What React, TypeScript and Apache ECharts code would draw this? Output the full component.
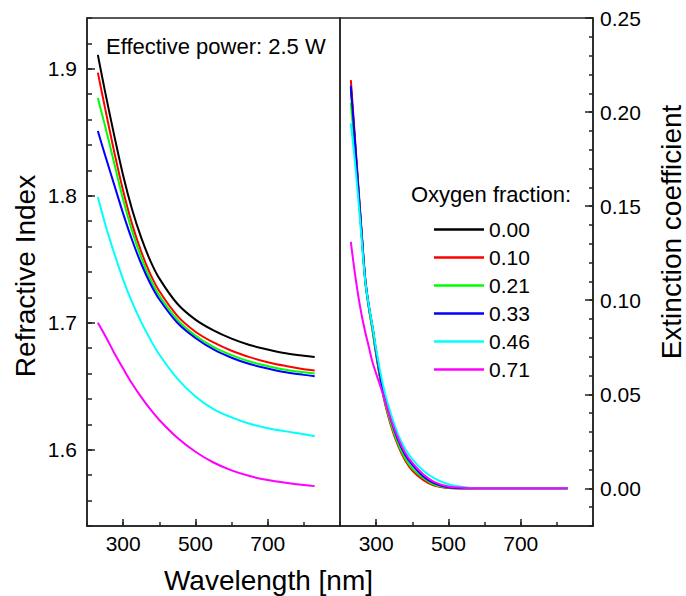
import React, { useEffect, useRef } from "react";
import * as echarts from "echarts";

const FONT = "'Liberation Sans', Arial, sans-serif";

const fractions = ["0.00", "0.10", "0.21", "0.33", "0.46", "0.71"];
const colors = ["#000000", "#ff0000", "#00ff00", "#0000ff", "#00ffff", "#ff00ff"];

// Refractive index panel
const wlN = [230, 250, 275, 300, 325, 350, 375, 400, 450, 500, 550, 600, 650, 700, 750, 800, 830];
const n000 = [1.911, 1.882, 1.848, 1.816, 1.789, 1.767, 1.749, 1.735, 1.715, 1.7025, 1.694, 1.6875, 1.6825, 1.679, 1.676, 1.674, 1.673];
const n010 = [1.897, 1.869, 1.835, 1.804, 1.7775, 1.756, 1.7385, 1.725, 1.7055, 1.693, 1.6845, 1.678, 1.673, 1.669, 1.666, 1.6635, 1.6625];
const n021 = [1.877, 1.855, 1.826, 1.797, 1.772, 1.7515, 1.7345, 1.7215, 1.7025, 1.690, 1.681, 1.6745, 1.6695, 1.666, 1.663, 1.661, 1.660];
const n033 = [1.851, 1.832, 1.809, 1.786, 1.765, 1.7465, 1.731, 1.7185, 1.700, 1.688, 1.679, 1.6725, 1.6675, 1.664, 1.661, 1.659, 1.658];
const n046 = [1.799, 1.778, 1.755, 1.734, 1.716, 1.7005, 1.687, 1.675, 1.656, 1.642, 1.632, 1.6255, 1.6205, 1.617, 1.6145, 1.6123, 1.6106];
const n071 = [1.700, 1.690, 1.6765, 1.664, 1.652, 1.6415, 1.632, 1.6235, 1.6095, 1.5985, 1.590, 1.5838, 1.5793, 1.5762, 1.574, 1.5722, 1.5714];
const nSeries = [n000, n010, n021, n033, n046, n071];

// Extinction coefficient panel
const wlK = [230, 240, 250, 260, 270, 280, 290, 300, 320, 340, 360, 380, 400, 430, 460, 500, 550, 600, 700, 830];
const k000 = [0.213, 0.187, 0.161, 0.135, 0.110, 0.096, 0.085, 0.072, 0.050, 0.035, 0.024, 0.016, 0.010, 0.005, 0.002, 0.0003, 0, 0, 0, 0];
const k010 = [0.217, 0.190, 0.163, 0.136, 0.111, 0.096, 0.084, 0.071, 0.049, 0.034, 0.023, 0.015, 0.0095, 0.0045, 0.0015, 0.0002, 0, 0, 0, 0];
const k021 = [0.205, 0.183, 0.159, 0.134, 0.110, 0.096, 0.084, 0.072, 0.050, 0.035, 0.024, 0.016, 0.0105, 0.0055, 0.002, 0.0004, 0, 0, 0, 0];
const k033 = [0.214, 0.188, 0.161, 0.135, 0.111, 0.097, 0.086, 0.073, 0.051, 0.037, 0.026, 0.018, 0.0125, 0.0065, 0.0028, 0.0006, 0, 0, 0, 0];
const k046 = [0.194, 0.176, 0.155, 0.132, 0.110, 0.097, 0.086, 0.074, 0.054, 0.040, 0.029, 0.021, 0.0155, 0.0095, 0.0055, 0.0022, 0.0005, 0, 0, 0];
const k071 = [0.131, 0.116, 0.103, 0.092, 0.083, 0.075, 0.067, 0.061, 0.0495, 0.037, 0.027, 0.019, 0.0135, 0.0075, 0.0035, 0.001, 0.0002, 0, 0, 0];
const kSeries = [k000, k010, k021, k033, k046, k071];

const wlTicks = [300, 500, 700];
const nTicks = [1.6, 1.7, 1.8, 1.9];
const kTicks = [0, 0.05, 0.1, 0.15, 0.2, 0.25];

const AX = "#222";

function mainX(gridIndex: number) {
  return {
    type: "value", gridIndex, position: "bottom", min: 200, max: 900, interval: 100,
    axisLine: { show: true, onZero: false, lineStyle: { color: AX, width: 1.5 } },
    axisTick: { show: true, inside: true, length: 7, customValues: wlTicks, lineStyle: { color: AX, width: 1.5 } },
    axisLabel: { customValues: wlTicks, margin: 7, fontSize: 21, color: "#000", fontFamily: FONT },
    splitLine: { show: false },
  };
}
function minorX(gridIndex: number) {
  return {
    type: "value", gridIndex, position: "bottom", min: 200, max: 900, interval: 100,
    axisLine: { show: false, onZero: false },
    axisTick: { show: true, inside: true, length: 4, lineStyle: { color: AX, width: 1.5 } },
    axisLabel: { show: false },
    splitLine: { show: false },
  };
}

export default function App() {
  const ref = useRef<HTMLDivElement>(null);
  useEffect(() => {
    if (!ref.current) return;
    const chart = echarts.init(ref.current, null, { renderer: "svg" });
    const series: any[] = [];
    fractions.forEach((f, i) => {
      series.push({
        type: "line", name: f, xAxisIndex: 0, yAxisIndex: 0,
        data: wlN.map((w, j) => [w, nSeries[i][j]]),
        symbol: "none", showSymbol: false, smooth: 0.35, color: colors[i],
        lineStyle: { width: 2, color: colors[i] }, z: 2 + i,
      });
    });
    fractions.forEach((f, i) => {
      series.push({
        type: "line", name: f, xAxisIndex: 2, yAxisIndex: 2,
        data: wlK.map((w, j) => [w, kSeries[i][j]]),
        symbol: "none", showSymbol: false, smooth: 0.35, color: colors[i],
        lineStyle: { width: 2, color: colors[i] }, z: 2 + i,
      });
    });
    chart.setOption({
      animation: false,
      backgroundColor: "#ffffff",
      textStyle: { fontFamily: FONT },
      grid: [
        { left: 87, top: 18, width: 253, height: 508, show: true, borderColor: AX, borderWidth: 1.5 },
        { left: 340, top: 18, width: 253, height: 508, show: true, borderColor: AX, borderWidth: 1.5 },
      ],
      xAxis: [mainX(0), minorX(0), mainX(1), minorX(1)],
      yAxis: [
        {
          type: "value", gridIndex: 0, position: "left", min: 1.54, max: 1.94, interval: 0.02,
          axisLine: { show: true, onZero: false, lineStyle: { color: AX, width: 1.5 } },
          axisTick: { show: true, inside: true, length: 8, customValues: nTicks, lineStyle: { color: AX, width: 1.5 } },
          axisLabel: { customValues: nTicks, margin: 10, fontSize: 21, color: "#000", fontFamily: FONT, formatter: (v: number) => v.toFixed(1) },
          splitLine: { show: false },
        },
        {
          type: "value", gridIndex: 0, position: "left", min: 1.54, max: 1.94, interval: 0.02,
          axisLine: { show: false, onZero: false },
          axisTick: { show: true, inside: true, length: 5, lineStyle: { color: AX, width: 1.5 } },
          axisLabel: { show: false }, splitLine: { show: false },
        },
        {
          type: "value", gridIndex: 1, position: "right", min: -0.02, max: 0.25, interval: 0.01,
          axisLine: { show: true, onZero: false, lineStyle: { color: AX, width: 1.5 } },
          axisTick: { show: true, inside: true, length: 8, customValues: kTicks, lineStyle: { color: AX, width: 1.5 } },
          axisLabel: { customValues: kTicks, margin: 7, fontSize: 21, color: "#000", fontFamily: FONT, formatter: (v: number) => v.toFixed(2) },
          splitLine: { show: false },
        },
        {
          type: "value", gridIndex: 1, position: "right", min: -0.02, max: 0.25, interval: 0.01,
          axisLine: { show: false, onZero: false },
          axisTick: { show: true, inside: true, length: 4, lineStyle: { color: AX, width: 1.5 } },
          axisLabel: { show: false }, splitLine: { show: false },
        },
      ],
      legend: {
        data: fractions, orient: "vertical", left: 429, top: 214, padding: 5,
        itemWidth: 50, itemHeight: 2.5, itemGap: 7, icon: "rect", selectedMode: false,
        textStyle: { fontSize: 21, lineHeight: 20, color: "#000", fontFamily: FONT },
      },
      graphic: [
        { type: "text", x: 106, y: 46, style: { text: "Effective power: 2.5 W", fontSize: 22, fill: "#000", fontFamily: FONT, verticalAlign: "middle", align: "left" } },
        { type: "text", x: 411, y: 194, style: { text: "Oxygen fraction:", fontSize: 22, fill: "#000", fontFamily: FONT, verticalAlign: "middle", align: "left" } },
        { type: "text", x: 268.5, y: 580.5, style: { text: "Wavelength [nm]", fontSize: 28, fill: "#000", fontFamily: FONT, align: "center", verticalAlign: "middle" } },
        { type: "text", x: 25, y: 276, rotation: Math.PI / 2, style: { text: "Refractive Index", fontSize: 28, fill: "#000", fontFamily: FONT, align: "center", verticalAlign: "middle" } },
        { type: "text", x: 671.5, y: 232, rotation: Math.PI / 2, style: { text: "Extinction coefficient", fontSize: 28, fill: "#000", fontFamily: FONT, align: "center", verticalAlign: "middle" } },
      ],
      series,
    });
    return () => chart.dispose();
  }, []);
  return <div ref={ref} style={{ position: "fixed", left: 0, top: 0, width: 686, height: 596 }} />;
}
